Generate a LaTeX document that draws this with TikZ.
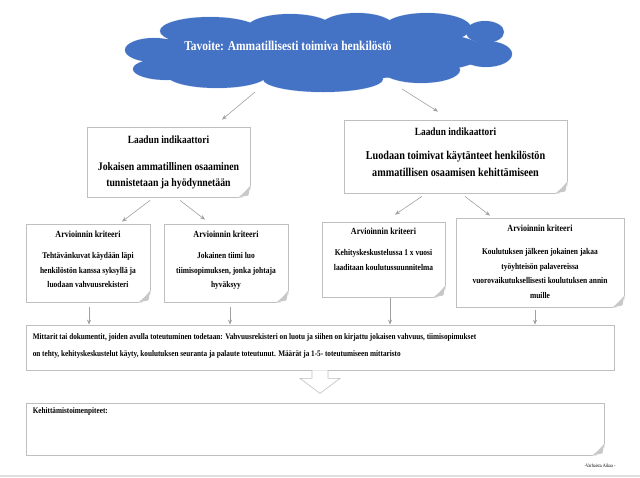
\documentclass[tikz,border=0pt]{standalone}
\usepackage{fontspec}
\setmainfont{Liberation Serif}[FakeStretch=0.85]
\usetikzlibrary{shapes,arrows.meta,positioning,calc}

\definecolor{cloudblue}{HTML}{4472C4}
\definecolor{boxline}{HTML}{BFBFBF}
\definecolor{linkgray}{HTML}{A0A0A0}
\definecolor{foldgray}{HTML}{C8C8C8}

\begin{document}
\begin{tikzpicture}[x=1pt, y=-1pt, font=\bfseries,
  goal/.style={text=white, inner sep=0pt, font=\bfseries\fontsize{13.5}{15}\selectfont},
  card/.style={draw=boxline, fill=white, line width=0.8pt, inner sep=0pt},
  cardtext/.style={align=center, inner sep=0pt, anchor=north},
  link/.style={-{Stealth[length=5pt,width=4pt]}, draw=linkgray, line width=0.6pt},
  hollow/.style={draw=gray!50, fill=white, line width=0.6pt}]
  \useasboundingbox (0,0) rectangle (640,477);

  % cloud
  \foreach \cx/\cy/\rx/\ry in {210/31/50/14, 290/29/44/15, 357/27/37/14, 427/28/44/15,
      485/32/19/11, 486/54/26/13, 421/70/39/13, 323/79/60/13, 217/75/50/13,
      167/69/34/11, 154/50/29/12, 318/52/170/28}
    \draw[white!75!cloudblue, line width=0.8pt] (\cx,\cy) ellipse [x radius=\rx, y radius=\ry];
  \foreach \cx/\cy/\rx/\ry in {210/31/50/14, 290/29/44/15, 357/27/37/14, 427/28/44/15,
      485/32/19/11, 486/54/26/13, 421/70/39/13, 323/79/60/13, 217/75/50/13,
      167/69/34/11, 154/50/29/12, 318/52/170/28}
    \fill[cloudblue] (\cx,\cy) ellipse [x radius=\rx, y radius=\ry];
  \node[goal] (goal) at (288,46) {Tavoite: Ammatillisesti toimiva henkilöstö};

  % quality indicators
  \node[card, minimum width=163pt, minimum height=70pt] (ind1) at (168.5,162) {};
  \node[cardtext, below=9pt of ind1.north, font=\bfseries\fontsize{11.5}{16}\selectfont] (ind1Text)
    {{\fontsize{11}{12}\selectfont Laadun indikaattori}\\[11pt]
     Jokaisen ammatillinen osaaminen\\tunnistetaan ja hyödynnetään};
  \node[card, minimum width=223pt, minimum height=73pt] (ind2) at (455.5,156.5) {};
  \node[cardtext, below=8pt of ind2.north, font=\bfseries\fontsize{12}{17}\selectfont] (ind2Text)
    {{\fontsize{11}{12}\selectfont Laadun indikaattori}\\[7pt]
     Luodaan toimivat käytänteet henkilöstön\\ammatillisen osaamisen kehittämiseen};

  % criteria
  \node[card, minimum width=124pt, minimum height=78pt] (crit1) at (88,263) {};
  \node[cardtext, below=7pt of crit1.north, font=\bfseries\fontsize{8.8}{14.5}\selectfont] (crit1Text)
    {{\fontsize{9.4}{10}\selectfont Arvioinnin kriteeri}\\[7pt]
     Tehtävänkuvat käydään läpi\\henkilöstön kanssa syksyllä ja\\luodaan vahvuusrekisteri};
  \node[card, minimum width=124pt, minimum height=78pt] (crit2) at (226,263) {};
  \node[cardtext, below=7pt of crit2.north, font=\bfseries\fontsize{8.8}{14.5}\selectfont] (crit2Text)
    {{\fontsize{9.4}{10}\selectfont Arvioinnin kriteeri}\\[7pt]
     Jokainen tiimi luo\\tiimisopimuksen, jonka johtaja\\hyväksyy};
  \node[card, minimum width=123pt, minimum height=75pt] (crit3) at (383.5,259.5) {};
  \node[cardtext, below=6pt of crit3.north, font=\bfseries\fontsize{8.8}{14.5}\selectfont] (crit3Text)
    {{\fontsize{9.4}{10}\selectfont Arvioinnin kriteeri}\\[7pt]
     Kehityskeskustelussa 1 x vuosi\\laaditaan koulutussuunnitelma};
  \node[card, minimum width=168pt, minimum height=89pt] (crit4) at (540,262.5) {};
  \node[cardtext, below=7pt of crit4.north, font=\bfseries\fontsize{8.8}{14.5}\selectfont] (crit4Text)
    {{\fontsize{9.4}{10}\selectfont Arvioinnin kriteeri}\\[9pt]
     Koulutuksen jälkeen jokainen jakaa\\työyhteisön palavereissa\\
     vuorovaikutuksellisesti koulutuksen annin\\muille};

  % measures and actions
  \node[card, minimum width=588pt, minimum height=45pt] (meter) at (320,347.5) {};
  \node[anchor=north west, align=left, inner sep=0pt, font=\bfseries\fontsize{8.5}{17}\selectfont]
    (meterText) at ([xshift=7pt,yshift=-9pt]meter.north west)
    {Mittarit tai dokumentit, joiden avulla toteutuminen todetaan: Vahvuusrekisteri on luotu ja siihen on kirjattu jokaisen vahvuus, tiimisopimukset\\
     on tehty, kehityskeskustelut käyty, koulutuksen seuranta ja palaute toteutunut. Määrät ja 1-5- toteutumiseen mittaristo};
  \node[card, minimum width=578pt, minimum height=52pt] (actions) at (315,429) {};
  \node[anchor=north west, inner sep=0pt, font=\bfseries\fontsize{8.5}{10}\selectfont]
    (actionsText) at ([xshift=7pt,yshift=-5pt]actions.north west) {Kehittämistoimenpiteet:};
  \node[inner sep=0pt, font=\fontsize{5}{6}\selectfont] (credit) at (600,466) {-Varhaista Aikaa -};
  \draw[gray!25, line width=2pt] (0,476) -- (640,476);

  % folded corners
  \foreach \n in {ind1,ind2,crit1,crit2,crit3,crit4,actions}{
    \fill[white] ([xshift=-12pt]\n.south east) -- ([xshift=1pt,yshift=-1pt]\n.south east)
      -- ([yshift=12pt]\n.south east) -- cycle;
    \fill[foldgray] ([xshift=-12pt]\n.south east) .. controls ([xshift=-6pt,yshift=5pt]\n.south east)
      .. ([yshift=12pt]\n.south east) -- ([xshift=-2pt,yshift=2pt]\n.south east) -- cycle;
  }

  % connectors
  \draw[link] ([xshift=-33pt,yshift=-46pt]goal.center) -- ([xshift=53.5pt,yshift=7pt]ind1.north);
  \draw[link] ([xshift=114pt,yshift=-43pt]goal.center) -- ([xshift=-17.5pt,yshift=8pt]ind2.north);
  \draw[link] ([xshift=-18.5pt,yshift=-3pt]ind1.south) -- ([xshift=34pt,yshift=2pt]crit1.north);
  \draw[link] ([xshift=11.5pt,yshift=-3pt]ind1.south) -- ([xshift=-21pt,yshift=4pt]crit2.north);
  \draw[link] ([xshift=-33.5pt,yshift=-3pt]ind2.south) -- ([xshift=11.5pt,yshift=7pt]crit3.north);
  \draw[link] ([xshift=9.5pt,yshift=-3pt]ind2.south) -- ([xshift=-50pt,yshift=2pt]crit4.north);
  \draw[link] ([xshift=1pt,yshift=-5pt]crit1.south) -- ([xshift=1pt]crit1.south |- meter.north);
  \draw[link] ([xshift=4pt,yshift=-5pt]crit2.south) -- ([xshift=4pt]crit2.south |- meter.north);
  \draw[link] ([xshift=6.5pt,yshift=-1pt]crit3.south) -- ([xshift=6.5pt]crit3.south |- meter.north);
  \draw[link] ([xshift=-5pt,yshift=-3pt]crit4.south) -- ([xshift=-5pt]crit4.south |- meter.north);
  \draw[hollow] ([xshift=-8pt]meter.south) -- ++(0,8) -- ++(-12,0) -- ++(20,15) -- ++(20,-15)
    -- ++(-12,0) -- ++(0,-8);
\end{tikzpicture}
\end{document}
